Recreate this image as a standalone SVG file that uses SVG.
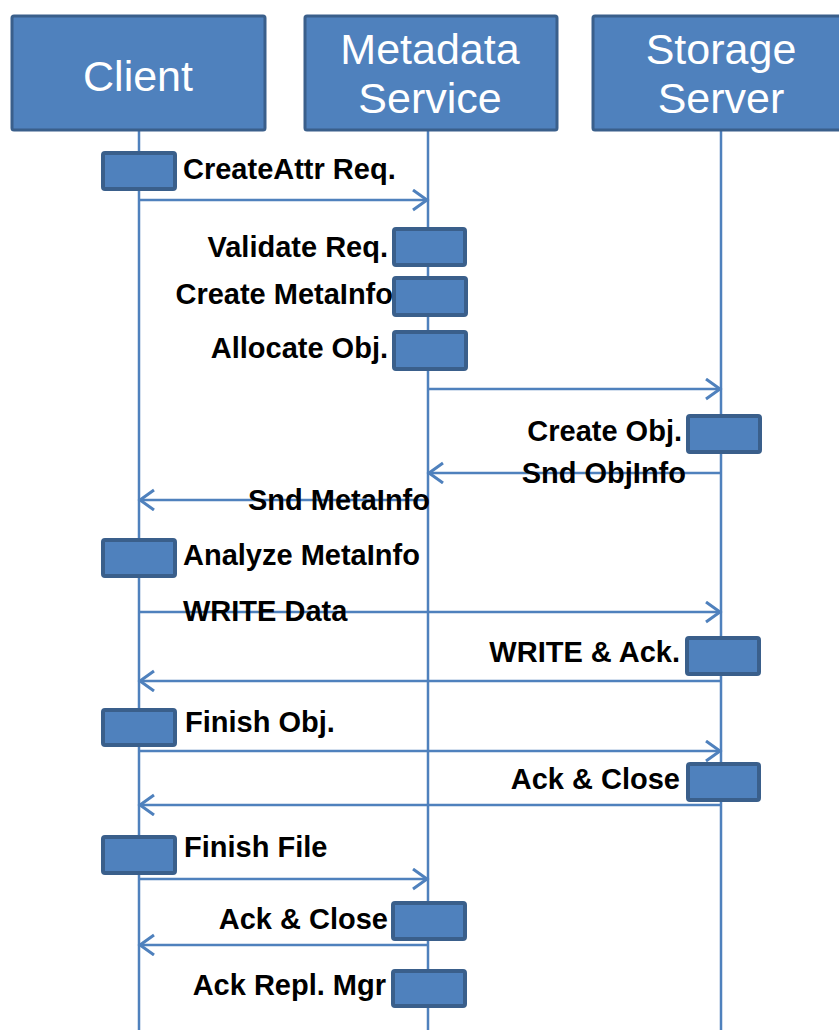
<svg xmlns="http://www.w3.org/2000/svg" width="839" height="1030" viewBox="0 0 839 1030">
<style>
.hdr{fill:#4F81BD;stroke:#3A5F8B;stroke-width:3}
.act{fill:#4F81BD;stroke:#3A5F8B;stroke-width:4}
.life{stroke:#4F81BD;stroke-width:2.5;fill:none}
.msg{stroke:#4F81BD;stroke-width:2.5;fill:none}
.ht{font-family:"Liberation Sans",Arial,sans-serif;font-size:43px;fill:#FFFFFF;text-anchor:middle}
.lbl{font-family:"Liberation Sans",Arial,sans-serif;font-size:29px;font-weight:bold;fill:#000000}
.r{text-anchor:end}
</style>
<defs>
<marker id="arr" markerUnits="userSpaceOnUse" markerWidth="20" markerHeight="24" refX="16" refY="11" orient="auto" viewBox="0 0 20 24">
<path d="M2 1 L16 11 L2 21" fill="none" stroke="#4F81BD" stroke-width="3"/>
</marker>
</defs>
<g id="lifelines">
<line class="life" x1="139" y1="130" x2="139" y2="1030"/>
<line class="life" x1="428" y1="130" x2="428" y2="1030"/>
<line class="life" x1="721" y1="130" x2="721" y2="1030"/>
</g>
<g id="client">
<rect class="hdr" x="12" y="16" width="253" height="114" rx="2"/>
<text class="ht" x="138" y="91">Client</text>
</g>
<g id="metadata">
<rect class="hdr" x="305" y="16" width="252" height="114" rx="2"/>
<text class="ht" x="430" y="64">Metadata</text>
<text class="ht" x="430" y="113">Service</text>
</g>
<g id="storage">
<rect class="hdr" x="593" y="16" width="260" height="114" rx="2"/>
<text class="ht" x="721" y="64">Storage</text>
<text class="ht" x="721" y="113">Server</text>
</g>
<g id="connectors">
<line class="msg" x1="139" y1="200" x2="427" y2="200" marker-end="url(#arr)"/>
<line class="msg" x1="428" y1="389" x2="720" y2="389" marker-end="url(#arr)"/>
<line class="msg" x1="721" y1="473" x2="429" y2="473" marker-end="url(#arr)"/>
<line class="msg" x1="428" y1="500" x2="140" y2="500" marker-end="url(#arr)"/>
<line class="msg" x1="139" y1="612" x2="720" y2="612" marker-end="url(#arr)"/>
<line class="msg" x1="721" y1="681" x2="140" y2="681" marker-end="url(#arr)"/>
<line class="msg" x1="139" y1="751" x2="720" y2="751" marker-end="url(#arr)"/>
<line class="msg" x1="721" y1="805" x2="140" y2="805" marker-end="url(#arr)"/>
<line class="msg" x1="139" y1="879" x2="427" y2="879" marker-end="url(#arr)"/>
<line class="msg" x1="428" y1="945" x2="140" y2="945" marker-end="url(#arr)"/>
</g>
<g id="createattr">
<rect class="act" x="103" y="153" width="72" height="36" rx="2"/>
<text class="lbl" x="183" y="179">CreateAttr Req.</text>
</g>
<g id="validate">
<rect class="act" x="394" y="229" width="71" height="36" rx="2"/>
<text class="lbl r" x="388" y="257">Validate Req.</text>
</g>
<g id="createmeta">
<rect class="act" x="394" y="278" width="72" height="37" rx="2"/>
<text class="lbl r" x="393" y="304">Create MetaInfo</text>
</g>
<g id="allocate">
<rect class="act" x="394" y="332" width="72" height="37" rx="2"/>
<text class="lbl r" x="388" y="358">Allocate Obj.</text>
</g>
<g id="createobj">
<rect class="act" x="688" y="416" width="72" height="36" rx="2"/>
<text class="lbl r" x="682" y="441">Create Obj.</text>
</g>
<g id="sndobjinfo">
<text class="lbl r" x="686" y="483">Snd ObjInfo</text>
</g>
<g id="sndmetainfo">
<text class="lbl r" x="430" y="510">Snd MetaInfo</text>
</g>
<g id="analyze">
<rect class="act" x="103" y="540" width="72" height="36" rx="2"/>
<text class="lbl" x="183" y="565">Analyze MetaInfo</text>
</g>
<g id="writedata">
<text class="lbl" x="183" y="621">WRITE Data</text>
</g>
<g id="writeack">
<rect class="act" x="687" y="638" width="72" height="36" rx="2"/>
<text class="lbl r" x="680" y="662">WRITE &amp; Ack.</text>
</g>
<g id="finishobj">
<rect class="act" x="103" y="710" width="72" height="35" rx="2"/>
<text class="lbl" x="185" y="732">Finish Obj.</text>
</g>
<g id="ackclose1">
<rect class="act" x="688" y="764" width="71" height="36" rx="2"/>
<text class="lbl r" x="680" y="789">Ack &amp; Close</text>
</g>
<g id="finishfile">
<rect class="act" x="103" y="837" width="72" height="36" rx="2"/>
<text class="lbl" x="184" y="857">Finish File</text>
</g>
<g id="ackclose2">
<rect class="act" x="393" y="903" width="72" height="36" rx="2"/>
<text class="lbl r" x="388" y="929">Ack &amp; Close</text>
</g>
<g id="ackrepl">
<rect class="act" x="393" y="971" width="72" height="35" rx="2"/>
<text class="lbl r" x="386" y="995">Ack Repl. Mgr</text>
</g>
</svg>
